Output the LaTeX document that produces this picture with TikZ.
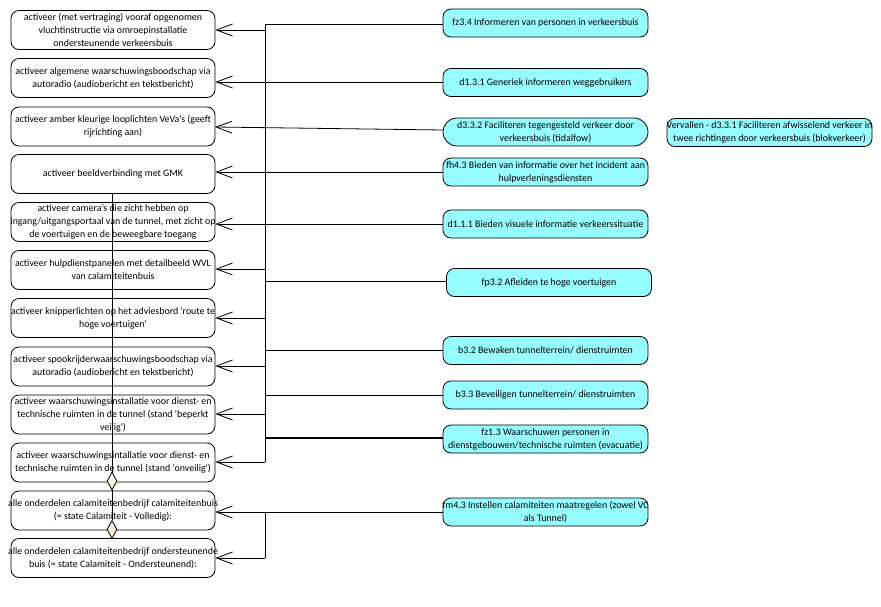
\documentclass[tikz,border=0pt]{standalone}
\usepackage{fontspec}
\setmainfont{Carlito}
\usetikzlibrary{arrows.meta,shapes.geometric}
\definecolor{cyanfill}{RGB}{150,252,255}
\definecolor{diafill}{RGB}{253,238,218}
\newcommand{\zl}[1]{\makebox[0pt][c]{#1}}
\tikzset{
  lbox/.style={draw=black, line width=0.8pt, rounded corners=8pt, minimum width=204pt, minimum height=39pt, align=center, font=\fontsize{9.9}{13}\selectfont, inner sep=0pt},
  rbox/.style={draw=black, line width=0.8pt, fill=cyanfill, rounded corners=8pt, minimum width=205pt, minimum height=28pt, align=center, font=\fontsize{9.9}{13}\selectfont, inner sep=0pt},
  conn/.style={line width=0.8pt, black},
  arr/.style={conn, -{Straight Barb[length=16pt, width=12pt, line width=0.8pt]}},
  dia/.style={draw=black, line width=0.8pt, fill=diafill, diamond, minimum width=10pt, minimum height=18pt, inner sep=0pt, aspect=0.55}
}
\begin{document}
\begin{tikzpicture}[x=1pt,y=-1pt]
\useasboundingbox (0,0) rectangle (881,607);
% left boxes
\node[lbox] (l1) at (113,30) {activeer (met vertraging) vooraf opgenomen\\vluchtinstructie via omroepinstallatie\\ondersteunende verkeersbuis};
\node[lbox] (l2) at (113,78) {activeer algemene waarschuwingsboodschap via\\autoradio (audiobericht en tekstbericht)};
\node[lbox] (l3) at (113,126.5) {activeer amber kleurige looplichten VeVa’s (geeft\\rijrichting aan)};
\node[lbox] (l4) at (113,174) {activeer beeldverbinding met GMK};
\node[lbox] (l5) at (113,222) {\zl{activeer camera’s die zicht hebben op}\\\zl{ingang/uitgangsportaal van de tunnel, met zicht op}\\\zl{de voertuigen en de beweegbare toegang}};
\node[lbox] (l6) at (113,270) {activeer hulpdienstpanelen met detailbeeld WVL\\van calamiteitenbuis};
\node[lbox] (l7) at (113,318) {\zl{activeer knipperlichten op het adviesbord {\textquotesingle}route te}\\\zl{hoge voertuigen{\textquotesingle}}};
\node[lbox] (l8) at (113,366.5) {activeer spookrijderwaarschuwingsboodschap via\\autoradio (audiobericht en tekstbericht)};
\node[lbox] (l9) at (113,414.5) {activeer waarschuwingsinstallatie voor dienst- en\\technische ruimten in de tunnel (stand {\textquotesingle}beperkt\\veilig{\textquotesingle})};
\node[lbox] (l10) at (113,462.5) {activeer waarschuwingsintallatie voor dienst- en\\technische ruimten in de tunnel (stand {\textquotesingle}onveilig{\textquotesingle})};
\node[lbox] (l11) at (113,510.5) {\zl{alle onderdelen calamiteitenbedrijf calamiteitenbuis}\\\zl{(= state Calamiteit - Volledig):}};
\node[lbox] (l12) at (113,558) {\zl{alle onderdelen calamiteitenbedrijf ondersteunende}\\\zl{buis (= state Calamiteit - Ondersteunend):}};
% right boxes
\node[rbox] (r1) at (545.5,23) {fz3.4 Informeren van personen in verkeersbuis};
\node[rbox] (r2) at (545.5,82.5) {d1.3.1 Generiek informeren weggebruikers};
\node[rbox, rounded corners=14pt] (r3) at (545.5,132) {d3.3.2 Faciliteren tegengesteld verkeer door\\verkeersbuis (tidalfow)};
\node[rbox] (r4) at (545.5,172) {\zl{fh4.3 Bieden van informatie over het incident aan}\\\zl{hulpverleningsdiensten}};
\node[rbox] (r5) at (545.5,224) {d1.1.1 Bieden visuele informatie verkeerssituatie};
\node[rbox] (r6) at (549,282.5) {fp3.2 Afleiden te hoge voertuigen};
\node[rbox] (r7) at (545.5,350.5) {b3.2 Bewaken tunnelterrein/ dienstruimten};
\node[rbox] (r8) at (545.5,395) {b3.3 Beveiligen tunnelterrein/ dienstruimten};
\node[rbox] (r9) at (545.5,439) {fz1.3 Waarschuwen personen in\\dienstgebouwen/technische ruimten (evacuatie)};
\node[rbox] (r10) at (545.5,512) {\zl{fm4.3 Instellen calamiteiten maatregelen (zowel VC}\\\zl{als Tunnel)}};
\node[rbox] (r11) at (769.5,132.5) {\zl{Vervallen - d3.3.1 Faciliteren afwisselend verkeer in}\\\zl{twee richtingen door verkeersbuis (blokverkeer)}};
% bus coordinates
\coordinate (bt) at (265,24);
\coordinate (b1) at (265,30);
\coordinate (b2) at (265,82);
\coordinate (b4) at (265,172);
\coordinate (b5) at (265,224);
\coordinate (b6) at (265,269);
\coordinate (b6r) at (265,281);
\coordinate (b7) at (265,318);
\coordinate (b7r) at (265,350);
\coordinate (b8) at (265,366);
\coordinate (b8r) at (265,395);
\coordinate (b9) at (265,414);
\coordinate (b9r) at (265,438);
\coordinate (b10) at (265,462);
\coordinate (c11) at (265,512);
\coordinate (c12) at (265,558);
\coordinate (r3w) at (443,130);
\coordinate (l3e) at (215,127);
% bus lines
\draw[conn] (bt) -- (b10);
\draw[conn] (c11) -- (c12);
\draw[conn] (r1.west |- bt) -- (bt);
\draw[conn] (r6.west |- b6r) -- (b6r);
\draw[conn] (r7.west |- b7r) -- (b7r);
\draw[conn] (r8.west |- b8r) -- (b8r);
\draw[line width=2.4pt] (r9.west |- b9r) -- (b9r);
% arrows to left boxes
\draw[arr] (b1) -- (l1.east |- b1);
\draw[arr] (r2.west |- b2) -- (l2.east |- b2);
\draw[arr] (r3w) -- (l3e);
\draw[arr] (r4.west |- b4) -- (l4.east |- b4);
\draw[arr] (r5.west |- b5) -- (l5.east |- b5);
\draw[arr] (b6) -- (l6.east |- b6);
\draw[arr] (b7) -- (l7.east |- b7);
\draw[arr] (b8) -- (l8.east |- b8);
\draw[arr] (b9) -- (l9.east |- b9);
\draw[arr] (b10) -- (l10.east |- b10);
\draw[arr] (r10.west |- c11) -- (l11.east |- c11);
\draw[arr] (c12) -- (l12.east |- c12);
% composition line with diamonds
\node[dia] (d1) at (112,481) {};
\node[dia] (d2) at (112,529.5) {};
\draw[conn] (l4.south -| d1) -- (d1.north);
\draw[conn] (d1.south) -- (d2.north);
\draw[conn] (d2.south) -- (l12.north -| d2);
\end{tikzpicture}
\end{document}
